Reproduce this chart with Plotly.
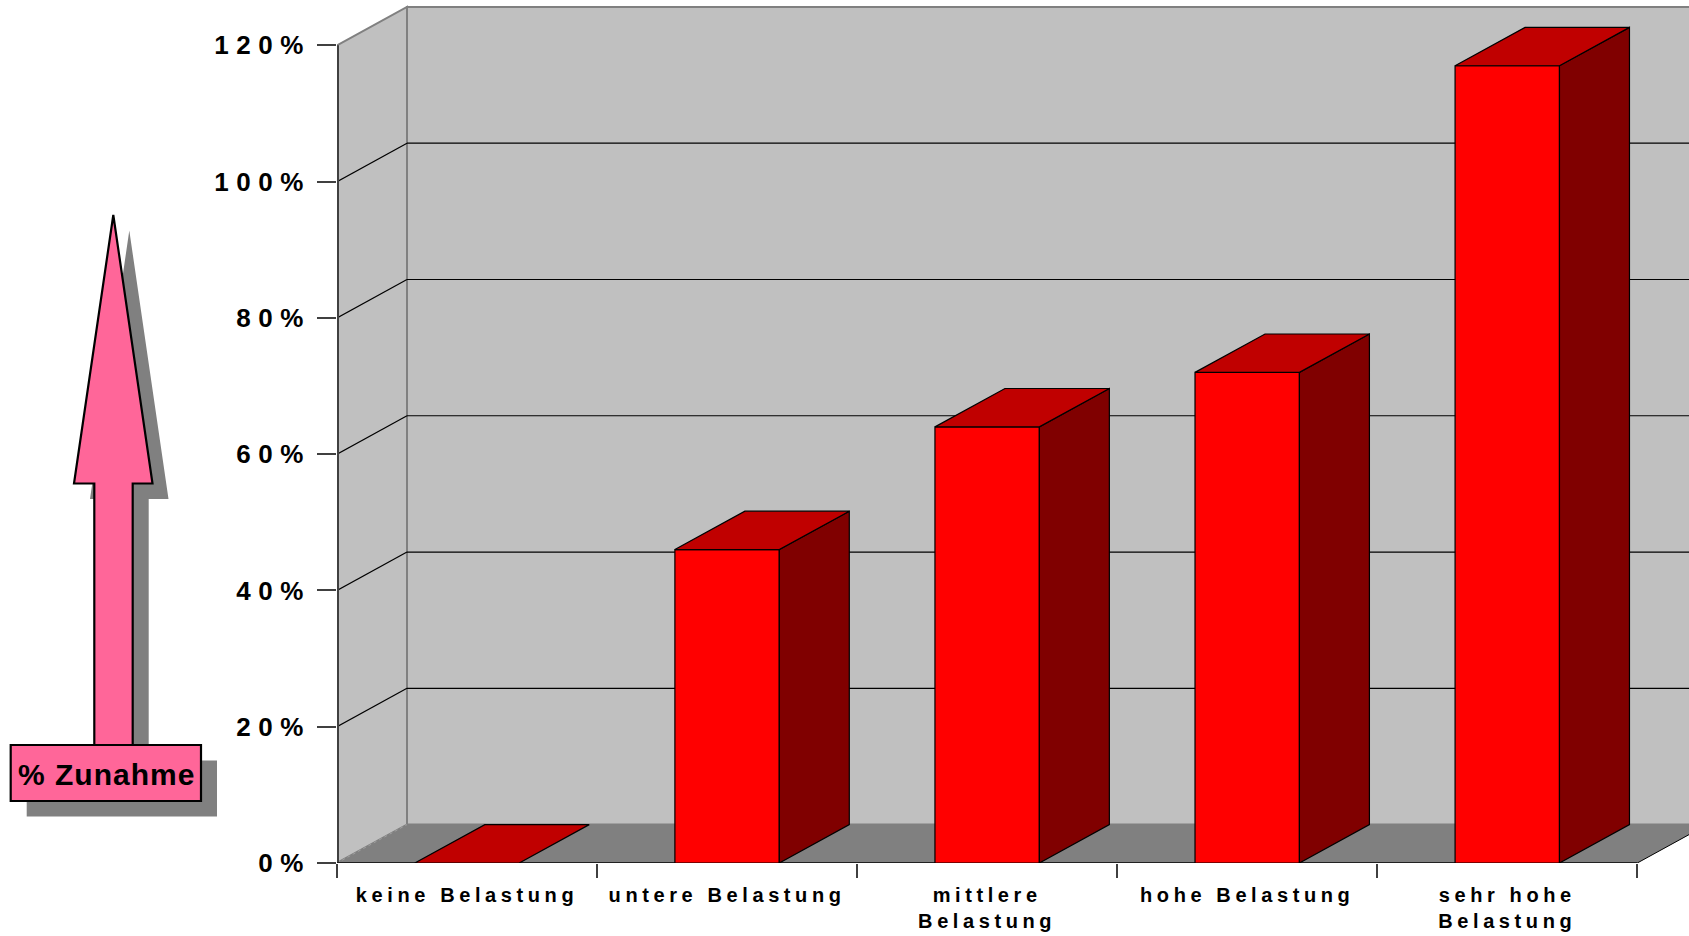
import plotly.graph_objects as go

# ---------------- data ----------------
categories = ["keine Belastung", "untere Belastung", "mittlere<br>Belastung",
              "hohe Belastung", "sehr hohe<br>Belastung"]
values = [0, 46, 64, 72, 117]
y_tick_values = [0, 20, 40, 60, 80, 100, 120]
y_tick_labels = ["0%", "20%", "40%", "60%", "80%", "100%", "120%"]
badge_text = "% Zunahme"

# ---------------- geometry / style ----------------
W, H = 1689, 936
ML, MR, MT, MB = 337, 0, 0, 73
plot_w = W - ML - MR
plot_h = H - MT - MB
PX_PER_CAT = 260.06
PX_PER_UNIT = 6.814
x_range = [-0.5, -0.5 + plot_w / PX_PER_CAT]
y_range = [0, plot_h / PX_PER_UNIT]
DX = 70.0 / PX_PER_CAT          # depth offset in category units
DY = 38.4 / PX_PER_UNIT         # depth offset in value units
BAR_W = 104.4 / PX_PER_CAT
YMAX = y_tick_values[-1]
N = len(categories)
X_LEFT, X_RIGHT = -0.5, N - 0.5

FRONT = "#FF0000"
TOP = "#C00000"
SIDE = "#800000"
WALL = "#C0C0C0"
FLOOR = "#808080"
EDGE = "#808080"
AXIS = "#404040"
PINK = "#FF6699"
FONT = "Liberation Sans, Arial, sans-serif"


def spaced(label, ls):
    return "<br>".join('<span style="letter-spacing:%spx">%s</span>' % (ls, part)
                       for part in label.split("<br>"))


fig = go.Figure()

shapes = []
# back wall
shapes.append(dict(type="rect", xref="x", yref="y", x0=X_LEFT + DX, x1=X_RIGHT + DX,
                   y0=DY, y1=YMAX + DY, fillcolor=WALL, line=dict(color=EDGE, width=2),
                   layer="below"))
# side wall
shapes.append(dict(type="path", xref="x", yref="y",
                   path=f"M {X_LEFT},0 L {X_LEFT},{YMAX} L {X_LEFT + DX},{YMAX + DY} L {X_LEFT + DX},{DY} Z",
                   fillcolor=WALL, line=dict(color=EDGE, width=2), layer="below"))
# floor
shapes.append(dict(type="path", xref="x", yref="y",
                   path=f"M {X_LEFT},0 L {X_RIGHT},0 L {X_RIGHT + DX},{DY} L {X_LEFT + DX},{DY} Z",
                   fillcolor=FLOOR, line=dict(width=0), layer="below"))
# floor / side wall seam
shapes.append(dict(type="line", xref="x", yref="y", x0=X_LEFT, y0=0, x1=X_LEFT + DX, y1=DY,
                   line=dict(color="#A0A0A0", width=1, dash="dot"), layer="below"))
# floor right edge
shapes.append(dict(type="line", xref="x", yref="y", x0=X_RIGHT, y0=0, x1=X_RIGHT + DX, y1=DY,
                   line=dict(color="black", width=1), layer="below"))
# grid lines
for v in y_tick_values[1:-1]:
    shapes.append(dict(type="line", xref="x", yref="y", x0=X_LEFT + DX, y0=v + DY,
                       x1=X_RIGHT + DX, y1=v + DY, line=dict(color="black", width=1.2),
                       layer="below"))
    shapes.append(dict(type="line", xref="x", yref="y", x0=X_LEFT, y0=v,
                       x1=X_LEFT + DX, y1=v + DY, line=dict(color="black", width=1.2),
                       layer="below"))
# front vertical axis line
shapes.append(dict(type="line", xref="x", yref="y", x0=X_LEFT, y0=0, x1=X_LEFT, y1=YMAX,
                   line=dict(color=AXIS, width=4), layer="below"))
# front floor edge
shapes.append(dict(type="line", xref="x", yref="y", x0=X_LEFT, y0=0, x1=X_RIGHT, y1=0,
                   line=dict(color="#202020", width=2), layer="below"))

# ---------------- bars ----------------
for i, v in enumerate(values):
    x0 = i - BAR_W / 2
    x1 = i + BAR_W / 2
    if v > 0:
        fig.add_trace(go.Scatter(
            x=[x1, x1, x1 + DX, x1 + DX, x1], y=[0, v, v + DY, DY, 0],
            mode="lines", fill="toself", fillcolor=SIDE,
            line=dict(color="black", width=1.2), hoverinfo="skip", showlegend=False))
    fig.add_trace(go.Scatter(
        x=[x0, x1, x1 + DX, x0 + DX, x0], y=[v, v, v + DY, v + DY, v],
        mode="lines", fill="toself", fillcolor=TOP,
        line=dict(color="black", width=1.2), hoverinfo="skip", showlegend=False))

fig.add_trace(go.Bar(
    x=list(range(N)), y=values, width=BAR_W,
    marker=dict(color=FRONT, line=dict(color="black", width=1.2)),
    hoverinfo="skip", showlegend=False))

# ---------------- arrow decoration (pixel geometry -> paper) ----------------
def P(x, y):
    return (x - ML) / plot_w, (H - MB - y) / plot_h


def path_px(pts):
    s = ""
    for k, (x, y) in enumerate(pts):
        px, py = P(x, y)
        s += ("M " if k == 0 else " L ") + f"{px},{py}"
    return s + " Z"


arrow_pts = [(113.3, 215), (152.5, 483.5), (132.7, 483.5), (132.7, 745),
             (94.3, 745), (94.3, 483.5), (74, 483.5)]
sx, sy = 16, 15.5
shadow_pts = [(x + sx, y + sy) for x, y in arrow_pts]
box = (10.7, 745, 201, 801)

shapes.append(dict(type="path", xref="paper", yref="paper", path=path_px(shadow_pts),
                   fillcolor=FLOOR, line=dict(width=0), layer="above"))
shapes.append(dict(type="path", xref="paper", yref="paper",
                   path=path_px([(box[0] + sx, box[1] + sy), (box[2] + sx, box[1] + sy),
                                 (box[2] + sx, box[3] + sy), (box[0] + sx, box[3] + sy)]),
                   fillcolor=FLOOR, line=dict(width=0), layer="above"))
shapes.append(dict(type="path", xref="paper", yref="paper", path=path_px(arrow_pts),
                   fillcolor=PINK, line=dict(color="black", width=2.2), layer="above"))
shapes.append(dict(type="path", xref="paper", yref="paper",
                   path=path_px([(box[0], box[1]), (box[2], box[1]), (box[2], box[3]), (box[0], box[3])]),
                   fillcolor=PINK, line=dict(color="black", width=2.2), layer="above"))

bx, by = P((box[0] + box[2]) / 2 + 0.5, (box[1] + box[3]) / 2 + 1)
fig.add_annotation(x=bx, y=by, xref="paper", yref="paper", showarrow=False,
                   text=spaced(badge_text, 1), xanchor="center", yanchor="middle",
                   font=dict(family=FONT, size=30, color="black", weight="bold"))

fig.update_layout(
    width=W, height=H,
    margin=dict(l=ML, r=MR, t=MT, b=MB, pad=0),
    paper_bgcolor="white", plot_bgcolor="white",
    shapes=shapes, showlegend=False, barmode="overlay",
    xaxis=dict(range=x_range, tickmode="array", tickvals=list(range(N)),
               ticktext=[spaced(c, 4.6) for c in categories], ticks="",
               showgrid=False, zeroline=False, showline=False, ticklabelstandoff=18,
               tickfont=dict(family=FONT, size=20, color="black", weight="bold"),
               minor=dict(tickmode="array", tickvals=[X_LEFT + k for k in range(N + 1)],
                          ticks="outside", ticklen=14, tickwidth=1.5, tickcolor=AXIS,
                          showgrid=False),
               fixedrange=True),
    yaxis=dict(range=y_range, tickmode="array", tickvals=y_tick_values,
               ticktext=[spaced(t, 7.5) for t in y_tick_labels],
               ticks="outside", ticklen=19, tickwidth=1.5, tickcolor=AXIS,
               showgrid=False, zeroline=False, showline=False, ticklabelstandoff=1,
               tickfont=dict(family=FONT, size=26, color="black", weight="bold"),
               fixedrange=True),
)

fig.write_html("out.html", config={"displayModeBar": False})
